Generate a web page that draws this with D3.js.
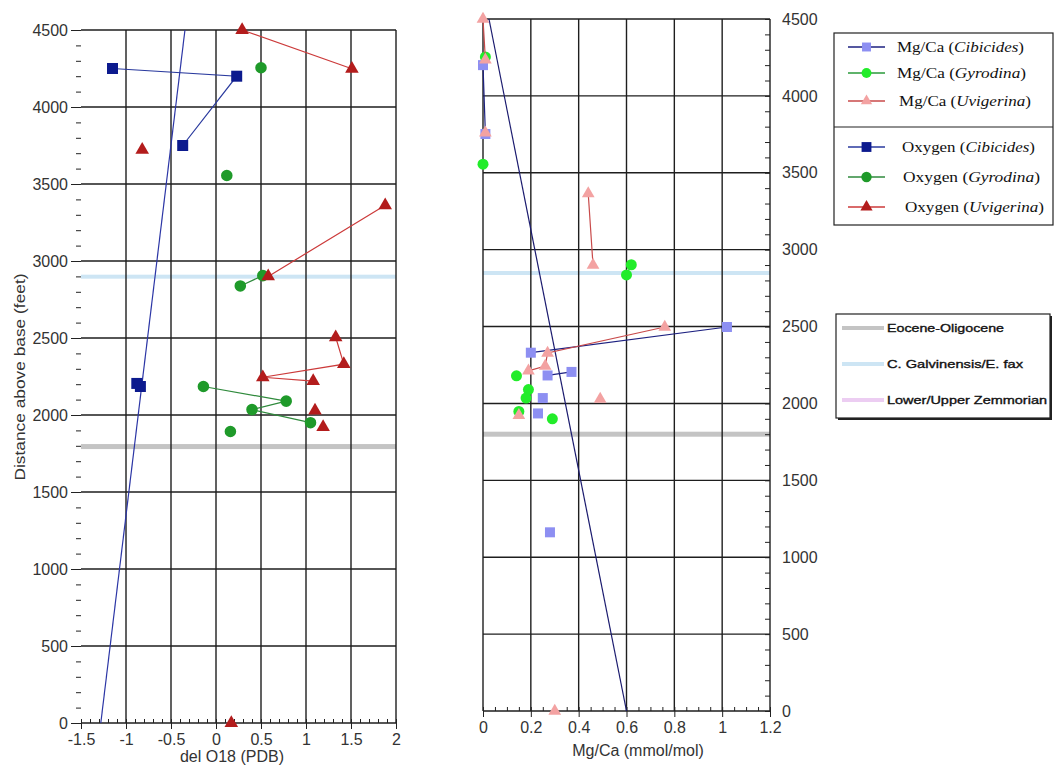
<!DOCTYPE html>
<meta charset="utf-8">
<style>
    body { margin: 0; background: #fff; }
    .tick text { font: 16px "Liberation Sans", Arial, sans-serif; fill: #333; }
    .axis path { display: none; }
    .axis line { stroke: #222; }
    .lab { font: 16px "Liberation Sans", Arial, sans-serif; fill: #333; }
    .leg1 text { font: 14.5px "Liberation Serif", "Times New Roman", serif; fill: #111; }
    .leg2 text { font: 11.5px "Liberation Sans", Arial, sans-serif; fill: #111; stroke: #111; stroke-width: 0.35px; }
</style>
<body>
<script src="https://d3js.org/d3.v7.min.js"></script>
<script>
// ---- data (null = break in the connecting line)
var oxCibX = [-1.15, 0.23, -0.37, null, -0.88, -0.84];
var oxCibY = [4250, 4200, 3750, null, 2205, 2185];

var oxGyrX = [0.5, null, 0.12, null, 0.52, 0.27, null, -0.14, 0.78, 0.4, 1.05, null, 0.16];
var oxGyrY = [4255, null, 3555, null, 2905, 2838, null, 2185, 2090, 2035, 1950, null, 1893];

var oxUviX = [0.29, 1.51, null, -0.82, null, 1.88, 0.58, null, 1.33, 1.42, 0.52, 1.08, null, 1.1, null, 1.19, null, 0.17];
var oxUviY = [4500, 4248, null, 3722, null, 3362, 2900, null, 2505, 2330, 2245, 2220, null, 2028, null, 1922, null, 0];

var mgCibX = [0.0, 0.01, null, 0.2, 1.02, null, 0.27, 0.37, null, 0.25, null, 0.23, null, 0.28];
var mgCibY = [4200, 3752, null, 2330, 2497, null, 2182, 2205, null, 2035, null, 1935, null, 1162];

var mgGyrX = [0.01, null, 0.0, null, 0.62, 0.6, null, 0.14, null, 0.19, null, 0.18, null, 0.15, null, 0.29];
var mgGyrY = [4253, null, 3556, null, 2902, 2836, null, 2180, null, 2090, null, 2035, null, 1948, null, 1900];

var mgUviX = [0.0, 0.01, null, 0.01, null, 0.44, 0.46, null, 0.76, 0.27, 0.26, 0.19, null, 0.49, null, 0.15, null, 0.3];
var mgUviY = [4500, 4235, null, 3760, null, 3365, 2900, null, 2497, 2328, 2243, 2212, null, 2028, null, 1922, null, 0];

// trend lines [x, depth]
var oxTrend = [[-1.28, 0], [-0.345, 4500]];
var mgTrend = [[0.6, 0], [0.025, 4500]];

// stratigraphic markers (depth as drawn in each panel)
var bandNames = ["Eocene-Oligocene", "C. Galvinensis/E. fax", "Lower/Upper Zemmorian"];
var bandDepthOx = [1795, 2895, null];
var bandDepthMg = [1800, 2845, null];
var bandColor = ["#c4c4c4", "#cde5f4", "#eccdf2"];

var legNames = [["Mg/Ca (", "Cibicides", ")"], ["Mg/Ca (", "Gyrodina", ")"], ["Mg/Ca (", "Uvigerina", ")"],
                ["Oxygen (", "Cibicides", ")"], ["Oxygen (", "Gyrodina", ")"], ["Oxygen (", "Uvigerina", ")"]];

var depthTicks = [0, 500, 1000, 1500, 2000, 2500, 3000, 3500, 4000, 4500];
var oxTicks = [-1.5, -1, -0.5, 0, 0.5, 1, 1.5, 2];
var mgTicks = [0, 0.2, 0.4, 0.6, 0.8, 1, 1.2];

// ---- styles per series
var series = [
    {x: mgCibX, y: mgCibY, sym: d3.symbolSquare, size: 100, fill: "#8d8ff2", line: "#1c2080"},
    {x: mgGyrX, y: mgGyrY, sym: d3.symbolCircle, size: 95, fill: "#22ec2a", line: "#2a9a3a"},
    {x: mgUviX, y: mgUviY, sym: d3.symbolTriangle, size: 70, fill: "#f3a2a2", line: "#c84a4a"},
    {x: oxCibX, y: oxCibY, sym: d3.symbolSquare, size: 121, fill: "#0c1a8e", line: "#2a3a9e"},
    {x: oxGyrX, y: oxGyrY, sym: d3.symbolCircle, size: 105, fill: "#1f9a2a", line: "#2f8a3c"},
    {x: oxUviX, y: oxUviY, sym: d3.symbolTriangle, size: 80, fill: "#b31c1c", line: "#cc3a3a"}
];

var svg = d3.select("body").append("svg")
    .attr("width", 1057)
    .attr("height", 770);

function fmt(d) { return String(d); }

function panel(opt) {
    var x = d3.scaleLinear().domain(opt.xdom).range([opt.x0, opt.x1]);
    var y = d3.scaleLinear().domain([0, 4500]).range([opt.yb, opt.yt]);
    var g = svg.append("g");

    // bands
    opt.bands.forEach(function(d, i) {
        if (d == null) return;
        g.append("rect")
            .attr("x", opt.x0).attr("width", opt.x1 - opt.x0)
            .attr("y", y(d) - 2.5).attr("height", i == 0 ? 5 : 4)
            .attr("fill", bandColor[i]);
    });

    // grid
    g.selectAll(".vg").data(opt.xgrid).enter().append("line")
        .attr("x1", function(d) { return x(d); }).attr("x2", function(d) { return x(d); })
        .attr("y1", opt.yt).attr("y2", opt.yb)
        .attr("stroke", "#1e1e1e").attr("stroke-width", 1.4);
    g.selectAll(".hg").data(depthTicks).enter().append("line")
        .attr("x1", opt.x0).attr("x2", opt.x1)
        .attr("y1", function(d) { return y(d); }).attr("y2", function(d) { return y(d); })
        .attr("stroke", "#1e1e1e").attr("stroke-width", 1.4);

    // x axis: major ticks out, minor ticks in
    g.append("g").attr("class", "axis")
        .attr("transform", "translate(0," + opt.yb + ")")
        .call(d3.axisBottom(x).tickValues(opt.xticks).tickSize(6).tickPadding(5).tickFormat(fmt));
    g.append("g").attr("class", "axis")
        .attr("transform", "translate(0," + opt.yb + ")")
        .call(d3.axisBottom(x).tickValues(opt.xminor).tickSize(-4).tickFormat(""));

    // y axis
    if (opt.side == "left") {
        g.append("g").attr("class", "axis")
            .attr("transform", "translate(" + opt.x0 + ",0)")
            .call(d3.axisLeft(y).tickValues(depthTicks).tickSize(10).tickPadding(3).tickFormat(fmt));
        g.append("g").attr("class", "axis")
            .attr("transform", "translate(" + opt.x0 + ",0)")
            .call(d3.axisLeft(y).tickValues(d3.range(0, 4501, 100)).tickSize(5).tickFormat(""));
    } else {
        g.append("g").attr("class", "axis")
            .attr("transform", "translate(" + opt.x1 + ",0)")
            .call(d3.axisRight(y).tickValues(depthTicks).tickSize(0).tickPadding(12).tickFormat(fmt));
        g.append("g").attr("class", "axis")
            .attr("transform", "translate(" + opt.x1 + ",0)")
            .call(d3.axisRight(y).tickValues(d3.range(0, 4501, 100)).tickSize(-5).tickFormat(""));
    }

    // trend
    g.append("path")
        .attr("d", d3.line().x(function(d) { return x(d[0]); }).y(function(d) { return y(d[1]); })(opt.trend))
        .attr("fill", "none").attr("stroke", opt.trendColor).attr("stroke-width", 1.2);

    // series
    opt.series.forEach(function(s) {
        var pts = s.x.map(function(v, i) { return {x: v, y: s.y[i]}; });
        var line = d3.line().defined(function(d) { return d.x != null; })
            .x(function(d) { return x(d.x); }).y(function(d) { return y(d.y); });
        g.append("path").attr("d", line(pts))
            .attr("fill", "none").attr("stroke", s.line).attr("stroke-width", 1.2);
        g.selectAll(null).data(pts.filter(function(d) { return d.x != null; })).enter()
            .append("path")
            .attr("d", d3.symbol().type(s.sym).size(s.size))
            .attr("transform", function(d) { return "translate(" + x(d.x) + "," + y(d.y) + ")"; })
            .attr("fill", s.fill);
    });

    g.append("text").attr("class", "lab")
        .attr("x", opt.labx).attr("y", opt.laby)
        .attr("text-anchor", "middle").text(opt.xlabel);
    return g;
}

panel({
    xdom: [-1.5, 2], x0: 81, x1: 396, yb: 723, yt: 30, side: "left",
    xgrid: oxTicks.slice(1), xticks: oxTicks,
    xminor: d3.range(-15, 21).map(function(d) { return d / 10; }),
    bands: bandDepthOx,
    trend: oxTrend, trendColor: "#2b35a5",
    series: series.slice(3), xlabel: "del O18 (PDB)", labx: 232, laby: 762
});

panel({
    xdom: [0, 1.2], x0: 483, x1: 770, yb: 711, yt: 19, side: "right",
    xgrid: mgTicks, xticks: mgTicks,
    xminor: d3.range(0, 25).map(function(d) { return d / 20; }),
    bands: bandDepthMg,
    trend: mgTrend, trendColor: "#1a1a6e",
    series: series.slice(0, 3), xlabel: "Mg/Ca (mmol/mol)", labx: 638, laby: 756
});

svg.append("text").attr("class", "lab")
    .attr("transform", "translate(25,377) rotate(-90)")
    .attr("text-anchor", "middle")
    .style("font-size", "15px")
    .attr("textLength", 207).attr("lengthAdjust", "spacingAndGlyphs")
    .text("Distance above base (feet)");

// ---- legend 1 (species)
var leg1 = svg.append("g").attr("class", "leg1");
leg1.append("rect").attr("x", 834).attr("y", 33).attr("width", 219).attr("height", 192)
    .attr("fill", "#fff").attr("stroke", "#222").attr("stroke-width", 1.2);
leg1.append("line").attr("x1", 834).attr("x2", 1053).attr("y1", 127).attr("y2", 127)
    .attr("stroke", "#222").attr("stroke-width", 1.2);
var rowY = [47, 73, 101, 147, 177, 207];
var rowX = [897, 897, 899, 902, 903, 905];
var rowW = [127, 129, 132, 133, 137, 139];
series.forEach(function(s, i) {
    var ry = rowY[i];
    leg1.append("line").attr("x1", 848).attr("x2", 885).attr("y1", ry).attr("y2", ry)
        .attr("stroke", s.line).attr("stroke-width", 1.3);
    leg1.append("path").attr("d", d3.symbol().type(s.sym).size(s.size * 0.8))
        .attr("transform", "translate(866.5," + ry + ")").attr("fill", s.fill);
    var t = leg1.append("text").attr("x", rowX[i]).attr("y", ry + 5)
        .attr("textLength", rowW[i]).attr("lengthAdjust", "spacingAndGlyphs");
    t.append("tspan").text(legNames[i][0]);
    t.append("tspan").attr("font-style", "italic").text(legNames[i][1]);
    t.append("tspan").text(legNames[i][2]);
});

// ---- legend 2 (markers)
var leg2 = svg.append("g").attr("class", "leg2");
leg2.append("rect").attr("x", 838).attr("y", 316).attr("width", 214).attr("height", 104).attr("fill", "#222");
leg2.append("rect").attr("x", 836).attr("y", 314).attr("width", 214).attr("height", 104)
    .attr("fill", "#fff").attr("stroke", "#222").attr("stroke-width", 1.2);
var row2 = [328, 364, 400];
var row2W = [117, 136, 160];
bandNames.forEach(function(n, i) {
    leg2.append("line").attr("x1", 842).attr("x2", 884).attr("y1", row2[i]).attr("y2", row2[i])
        .attr("stroke", bandColor[i]).attr("stroke-width", 4);
    leg2.append("text").attr("x", 887).attr("y", row2[i] + 4)
        .attr("textLength", row2W[i]).attr("lengthAdjust", "spacingAndGlyphs").text(n);
});
</script>
</body>
